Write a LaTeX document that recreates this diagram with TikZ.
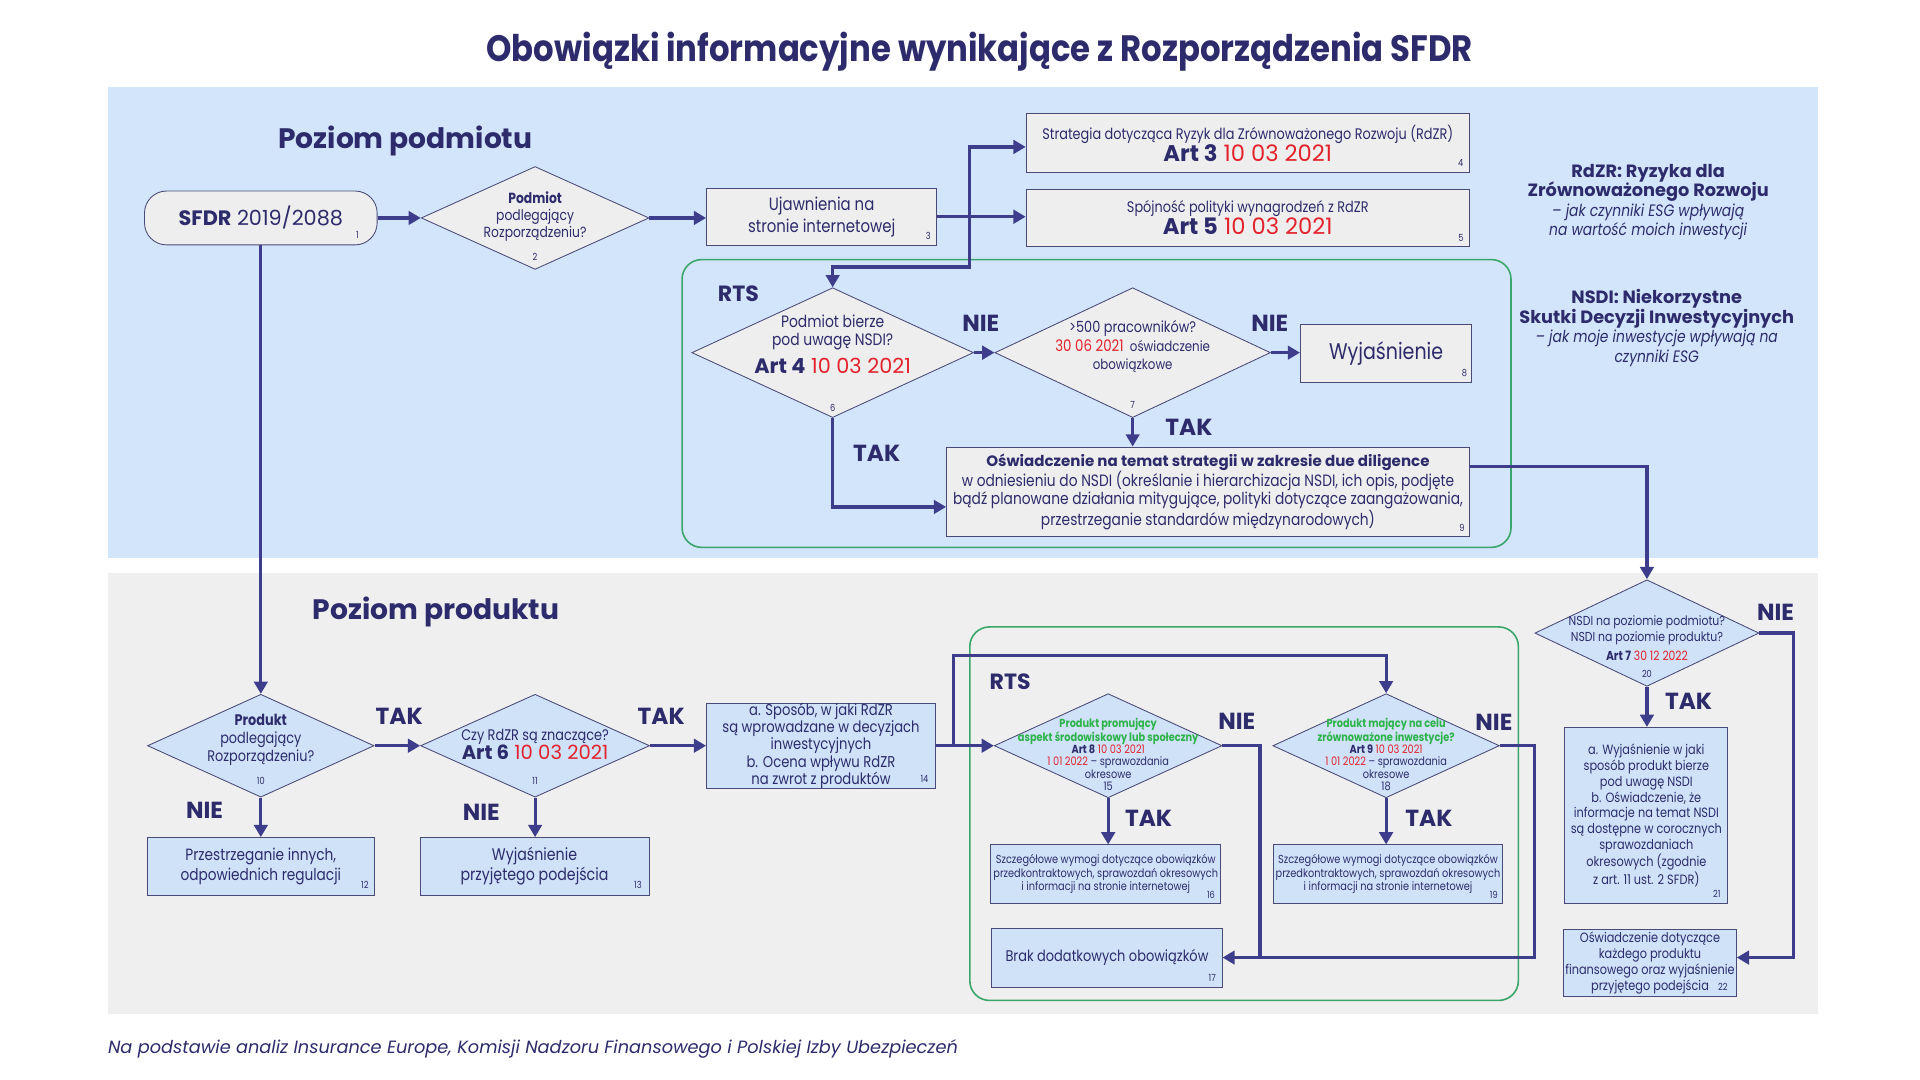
\documentclass[tikz,border=0pt]{standalone}
\usepackage{fontspec}
\setmainfont{Poppins}[FakeStretch=0.84]
\newfontfamily\headfont{Poppins}
\newfontfamily\titlefont{Poppins}[FakeStretch=0.88]
\usetikzlibrary{arrows.meta,shapes.geometric,calc}
\definecolor{navy}{HTML}{2D2B6B}
\definecolor{linec}{HTML}{3D3D8C}
\definecolor{bandblue}{HTML}{D3E5FA}
\definecolor{bandgrey}{HTML}{EFEFEF}
\definecolor{boxgrey}{HTML}{EEEEEE}
\definecolor{boxblue}{HTML}{CFE2F8}
\definecolor{boxline}{HTML}{4A4A78}
\definecolor{redc}{HTML}{E3222C}
\definecolor{greent}{HTML}{2DB34A}
\definecolor{greenb}{HTML}{3AA66B}
\newcommand{\fsz}[2]{\fontsize{#1}{#2}\selectfont}
\newcommand{\rd}[1]{\textcolor{redc}{#1}}
\newcommand{\gr}[1]{\textcolor{greent}{#1}}
\tikzset{
  arr/.style={draw=linec, line width=2.6pt, -{Triangle[length=10pt,width=11pt]}},
  ln/.style={draw=linec, line width=2.6pt},
  gbox/.style={rectangle, draw=boxline, line width=0.7pt, fill=boxgrey, inner sep=0pt, align=center, text=navy},
  bbox/.style={rectangle, draw=boxline, line width=0.7pt, fill=boxblue, inner sep=0pt, align=center, text=navy},
  gdia/.style={diamond, draw=boxline, line width=0.7pt, fill=boxgrey, inner sep=0pt},
  bdia/.style={diamond, draw=boxline, line width=0.7pt, fill=boxblue, inner sep=0pt},
  txt/.style={inner sep=0pt, align=center, text=navy},
  num/.style={inner sep=0pt, text=navy, font=\fsz{8}{9}},
  lab/.style={inner sep=0pt, text=navy, font=\headfont\bfseries\fsz{19}{20}},
  rts/.style={draw=greenb, line width=1.3pt, rounded corners=16pt},
}
\begin{document}
\begin{tikzpicture}[x=1pt,y=-1pt]
\useasboundingbox (0,0) rectangle (1568,882);
\fill[white] (0,0) rectangle (1568,882);
% bands
\fill[bandblue] (88,71) rectangle (1485,456);
\fill[bandgrey] (88,468) rectangle (1485,828);
% title
\node[txt, font=\titlefont\bfseries\fsz{30}{32}] (title) at (800,42) {Obowiązki informacyjne wynikające z Rozporządzenia SFDR};
\node[txt, font=\headfont\bfseries\fsz{23}{25}] (hp1) at (331,115) {Poziom podmiotu};
\node[txt, font=\headfont\bfseries\fsz{23}{25}] (hp2) at (356,500) {Poziom produktu};
% RTS frames
\draw[rts] (557,212) rectangle (1234,447);
\draw[rts] (792,512) rectangle (1240,817);
\node[lab, font=\headfont\bfseries\fsz{18}{20}] (rts1) at (603,240) {RTS};
\node[lab, font=\headfont\bfseries\fsz{18}{20}] (rts2) at (825,557) {RTS};

% ===== Entity level =====
\node[rectangle, draw=boxline, line width=0.7pt, fill=boxgrey, rounded corners=18pt, minimum width=190pt, minimum height=44pt, inner sep=0pt, text=navy, font=\headfont\fsz{17}{19}] (sfdr) at (213,178) {\textbf{SFDR} 2019/2088};
\node[num] (n1) at (292,192) {1};

\node[gdia, minimum width=186pt, minimum height=84pt] (d2) at (437,178) {};
\node[txt, font=\fsz{12}{14}] (d2t) at (437,177) {\textbf{Podmiot}\\podlegający\\Rozporządzeniu?};
\node[num] (n2) at (437,210) {2};

\node[gbox, minimum width=188pt, minimum height=47pt, font=\fsz{14.5}{18}] (b3) at (671,177) {Ujawnienia na\\stronie internetowej};
\node[num] (n3) at (758,193) {3};

\node[gbox, minimum width=362pt, minimum height=48pt] (b4) at (1019,117) {{\fsz{12.5}{18}Strategia dotycząca Ryzyk dla Zrównoważonego Rozwoju (RdZR)}\\{\headfont\fsz{18.5}{19}\textbf{Art 3} \rd{10 03 2021}}};
\node[num] (n4) at (1193,133) {4};

\node[gbox, minimum width=362pt, minimum height=46pt] (b5) at (1019,178) {{\fsz{12.5}{19}Spójność polityki wynagrodzeń z RdZR}\\{\headfont\fsz{18.5}{19}\textbf{Art 5} \rd{10 03 2021}}};
\node[num] (n5) at (1193,194) {5};

\node[gdia, minimum width=230pt, minimum height=106pt] (d6) at (680,288) {};
\node[txt, font=\fsz{13.5}{15}] (d6t) at (680,281) {Podmiot bierze\\pod uwagę NSDI?\\[5pt]{\headfont\fsz{17}{18}\textbf{Art 4} \rd{10 03 2021}}};
\node[num] (n6) at (680,333) {6};

\node[gdia, minimum width=225pt, minimum height=106pt] (d7) at (925,288) {};
\node[txt, font=\fsz{11.5}{15}] (d7t) at (925,283) {{\fsz{12.5}{15}>500 pracowników?}\\{\fsz{13}{15}\rd{30 06 2021}}\ \ oświadczenie\\obowiązkowe};
\node[num] (n7) at (925,331) {7};

\node[gbox, minimum width=140pt, minimum height=47pt, font=\fsz{18.5}{20}] (b8) at (1132,288.5) {Wyjaśnienie};
\node[num] (n8) at (1196,305) {8};

\node[gbox, minimum width=427pt, minimum height=73pt, font=\fsz{13.4}{14}] (b9) at (986.5,401.5) {{\headfont\fsz{12.3}{14}\bfseries Oświadczenie na temat strategii w zakresie due diligence}\\w odniesieniu do NSDI (określanie i hierarchizacja NSDI, ich opis, podjęte\\bądź planowane działania mitygujące, polityki dotyczące zaangażowania,\\przestrzeganie standardów międzynarodowych)};
\node[num] (n9) at (1194,431) {9};

% info texts
\node[txt, font=\fsz{13.5}{16}] (info1) at (1346,165) {{\headfont\bfseries\fsz{14.5}{16}RdZR: Ryzyka dla}\\{\headfont\bfseries\fsz{14.5}{16}Zrównoważonego Rozwoju}\\\textit{– jak czynniki ESG wpływają}\\\textit{na wartość moich inwestycji}};
\node[txt, font=\fsz{13.5}{16}] (info2) at (1353,268) {{\headfont\bfseries\fsz{14.5}{16}NSDI: Niekorzystne}\\{\headfont\bfseries\fsz{14.5}{16}Skutki Decyzji Inwestycyjnych}\\\textit{– jak moje inwestycje wpływają na}\\\textit{czynniki ESG}};

% connectors entity level
\coordinate (j1) at (792,177);
\coordinate (j1b) at (792,218);
\draw[arr] (sfdr.east) -- (d2.west);
\draw[arr] (d2.east) -- (d2.east -| b3.west);
\draw[arr] (b3.east) -- (b3.east -| b5.west);
\draw[arr] (j1) |- ($(b4.west)+(0,3)$);
\draw[arr] (j1) -- (j1b) -| (d6.north);
\draw[arr] (d6.east) -- (d7.west);
\draw[arr] (d7.east) -- (d7.east -| b8.west);
\draw[arr] (d7.south) -- (d7.south |- b9.north);
\draw[arr] (d6.south) |- ($(b9.west)+(0,12.5)$);
\draw[arr] ($(b9.east)+(0,-20.5)$) -| (1345,473);

\node[lab] (nie1) at (801,264) {NIE};
\node[lab] (nie2) at (1037,264) {NIE};
\node[lab] (tak1) at (971,349) {TAK};
\node[lab] (tak2) at (716,370) {TAK};

% ===== Product level =====
\node[bdia, minimum width=185pt, minimum height=84pt] (d10) at (213,609) {};
\node[txt, font=\fsz{12.5}{14.5}] (d10t) at (213,604) {\textbf{Produkt}\\podlegający\\Rozporządzeniu?};
\node[num] (n10) at (213,638) {10};

\node[bdia, minimum width=187pt, minimum height=84pt] (d11) at (437,609) {};
\node[txt, font=\fsz{12.5}{14}] (d11t) at (437,608) {Czy RdZR są znaczące?\\{\headfont\fsz{16}{16}\textbf{Art 6} \rd{10 03 2021}}};
\node[num] (n11) at (437,638) {11};

\node[bbox, minimum width=187pt, minimum height=69pt, font=\fsz{12.8}{14}] (b14) at (670.5,609) {a. Sposób, w jaki RdZR\\są wprowadzane w decyzjach\\inwestycyjnych\\b. Ocena wpływu RdZR\\na zwrot z produktów};
\node[num] (n14) at (755,636) {14};

\node[bbox, minimum width=186pt, minimum height=47pt, font=\fsz{13.3}{16}] (b12) at (213,707.5) {Przestrzeganie innych,\\odpowiednich regulacji};
\node[num] (n12) at (298,723) {12};

\node[bbox, minimum width=187pt, minimum height=47pt, font=\fsz{13.8}{16}] (b13) at (436.5,707.5) {Wyjaśnienie\\przyjętego podejścia};
\node[num] (n13) at (521,723) {13};

\node[bdia, minimum width=186pt, minimum height=85pt] (d15) at (905,609) {};
\node[txt, font=\fsz{9.5}{10}] (d15t) at (905,616) {\gr{\bfseries Produkt promujący}\\\gr{\bfseries aspekt środowiskowy lub społeczny}\\{\bfseries Art 8} \rd{10 03 2021}\\\rd{1 01 2022} – sprawozdania\\okresowe\\15};

\node[bdia, minimum width=185pt, minimum height=85pt] (d18) at (1132,609) {};
\node[txt, font=\fsz{9.5}{10}] (d18t) at (1132,616) {\gr{\bfseries Produkt mający na celu}\\\gr{\bfseries zrównoważone inwestycje?}\\{\bfseries Art 9} \rd{10 03 2021}\\\rd{1 01 2022} – sprawozdania\\okresowe\\18};

\node[bbox, minimum width=188pt, minimum height=48pt, font=\fsz{9.5}{11}] (b16) at (903,714) {Szczegółowe wymogi dotyczące obowiązków\\przedkontraktowych, sprawozdań okresowych\\i informacji na stronie internetowej};
\node[num] (n16) at (989,731) {16};

\node[bbox, minimum width=187pt, minimum height=48pt, font=\fsz{9.5}{11}] (b19) at (1133.5,714) {Szczegółowe wymogi dotyczące obowiązków\\przedkontraktowych, sprawozdań okresowych\\i informacji na stronie internetowej};
\node[num] (n19) at (1220,731) {19};

\node[bbox, minimum width=188pt, minimum height=48pt, font=\fsz{12.6}{15}] (b17) at (904,782) {Brak dodatkowych obowiązków};
\node[num] (n17) at (990,799) {17};

\node[bdia, minimum width=183pt, minimum height=87pt] (d20) at (1345,517) {};
\node[txt, font=\fsz{10.6}{13}] (d20t) at (1345,521) {NSDI na poziomie podmiotu?\\NSDI na poziomie produktu?\\[3pt]{\fsz{10.5}{12}\textbf{Art 7} \rd{30 12 2022}}};
\node[num] (n20) at (1345,550) {20};

\node[bbox, minimum width=133pt, minimum height=144pt, font=\fsz{11}{12.9}] (b21) at (1344.5,666) {a. Wyjaśnienie w jaki\\sposób produkt bierze\\pod uwagę NSDI\\b. Oświadczenie, że\\informacje na temat NSDI\\są dostępne w corocznych\\sprawozdaniach\\okresowych (zgodnie\\z art. 11 ust. 2 SFDR)};
\node[num] (n21) at (1402,730) {21};

\node[bbox, minimum width=141pt, minimum height=55pt, font=\fsz{11}{13}] (b22) at (1347.5,786.5) {Oświadczenie dotyczące\\każdego produktu\\finansowego oraz wyjaśnienie\\przyjętego podejścia\hspace{14pt}};
\node[num] (n22) at (1407,806) {22};

% connectors product level
\coordinate (j2) at (779,609);
\coordinate (j2t) at (779,535);
\coordinate (k1) at (1253,782);
\coordinate (k2) at (1029,782);
\coordinate (k3) at (1465,782);
\draw[arr] (sfdr.south) -- (d10.north);
\draw[arr] (d10.east) -- (d11.west);
\draw[arr] (d11.east) -- (b14.west);
\draw[arr] (d10.south) -- (b12.north);
\draw[arr] (d11.south) -- (d11.south |- b13.north);
\draw[arr] (b14.east) -- (d15.west);
\draw[arr] (j2) -- (j2t) -| (d18.north);
\draw[arr] (d15.south) -- (d15.south |- b16.north);
\draw[arr] (d18.south) -- (d18.south |- b19.north);
\draw[ln] (d15.east) -| (k2);
\draw[arr] (d18.east) -| (k1) -- (b17.east);
\draw[arr] (d20.south) -- (d20.south |- b21.north);
\draw[arr] (d20.east) -| (k3) -- (k3 -| b22.east);

\node[lab] (tak3) at (326,585) {TAK};
\node[lab] (tak4) at (540,585) {TAK};
\node[lab] (nie3) at (167,662) {NIE};
\node[lab] (nie4) at (393,663) {NIE};
\node[lab] (nie5) at (1010,589) {NIE};
\node[lab] (nie6) at (1220,590) {NIE};
\node[lab] (tak5) at (938,668) {TAK};
\node[lab] (tak6) at (1167,668) {TAK};
\node[lab] (nie7) at (1450,500) {NIE};
\node[lab] (tak7) at (1379,573) {TAK};

% footer
\node[inner sep=0pt, anchor=west, text=navy, font=\headfont\itshape\fsz{14.5}{16}] (foot) at (88,857) {Na podstawie analiz Insurance Europe, Komisji Nadzoru Finansowego i Polskiej Izby Ubezpieczeń};
\end{tikzpicture}
\end{document}
